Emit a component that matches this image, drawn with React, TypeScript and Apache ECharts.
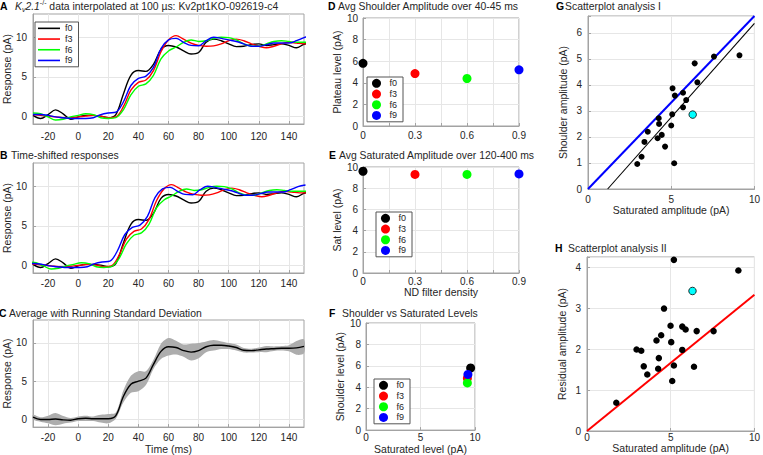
import React, { useEffect, useRef } from 'react';
import * as echarts from 'echarts';

// ---------- data ----------
const TIME = [-30, -25, -20, -15, -10, -5, 0, 5, 10, 15, 20, 25, 30, 35, 40, 45, 50, 55, 60, 65, 70, 75, 80, 85, 90, 95, 100, 105, 110, 115, 120, 125, 130, 135, 140, 145, 150, 155];
const RESP_F0 = [0.1, -0.3, 0.2, 0.8, 0.3, -0.4, -0.1, 0.1, 0.1, 0.0, -0.2, 0.2, 2.8, 5.2, 5.8, 5.7, 6.6, 8.5, 9.0, 8.8, 8.3, 7.9, 8.1, 9.4, 9.8, 9.6, 9.2, 8.85, 8.9, 9.1, 9.2, 9.0, 9.1, 9.2, 9.0, 8.7, 9.15, 9.3];
const RESP_F3 = [0.2, 0.1, 0.0, -0.1, -0.2, -0.2, -0.1, 0.0, 0.1, 0.0, -0.2, -0.1, 1.2, 3.3, 4.3, 4.6, 5.8, 8.2, 9.7, 10.25, 9.8, 9.3, 9.0, 8.9, 8.95, 9.2, 9.6, 9.8, 9.6, 9.2, 8.9, 8.7, 8.9, 9.2, 9.4, 9.3, 9.2, 9.2];
const RESP_F6 = [0.4, 0.3, -0.1, -0.5, -0.4, -0.1, 0.1, 0.3, 0.2, -0.2, -0.3, -0.2, 0.8, 2.7, 3.8, 4.1, 5.2, 7.3, 8.3, 8.8, 9.4, 9.7, 9.5, 9.6, 9.9, 10.05, 10.0, 9.7, 9.2, 8.9, 8.9, 9.2, 9.5, 9.6, 9.5, 9.4, 9.4, 9.4];
const RESP_F9 = [0.2, 0.2, 0.1, -0.1, -0.2, -0.3, -0.3, -0.3, -0.2, 0.2, 0.4, 0.5, 1.8, 3.9, 4.8, 5.1, 6.2, 8.6, 9.7, 9.9, 9.4, 9.0, 8.95, 9.6, 10.05, 9.9, 9.7, 9.5, 9.2, 8.9, 8.9, 9.1, 9.3, 9.3, 9.3, 9.6, 10.0, 10.2];
const TIME_SHIFT = [0, 3, 3, 4]; // ms shift applied in panel B

const AVG_TIME = [-30, -25, -20, -15, -10, -5, 0, 5, 10, 15, 20, 25, 30, 35, 40, 45, 50, 55, 60, 65, 70, 75, 80, 85, 90, 95, 100, 105, 110, 115, 120, 125, 130, 135, 140, 145, 150];
const AVG_MEAN = [0.3, 0.0, 0.0, 0.05, -0.05, -0.1, 0.1, 0.15, 0.1, 0.1, 0.1, 0.5, 3.0, 4.6, 5.0, 5.4, 7.2, 8.9, 9.5, 9.4, 9.0, 8.8, 9.0, 9.5, 9.7, 9.7, 9.6, 9.4, 9.05, 9.0, 9.1, 9.2, 9.25, 9.3, 9.3, 9.35, 9.55];
const AVG_SD = [0.3, 0.3, 0.5, 0.8, 0.5, 0.3, 0.3, 0.35, 0.3, 0.5, 0.6, 0.4, 0.8, 1.1, 1.3, 0.9, 0.6, 1.0, 1.15, 0.9, 0.8, 1.1, 1.0, 0.7, 0.7, 0.5, 0.4, 0.4, 0.3, 0.25, 0.3, 0.4, 0.3, 0.3, 0.4, 0.9, 0.9];

const FILTERS = ['f0', 'f3', 'f6', 'f9'];
const FILTER_COLORS = ['#000000', '#ff0000', '#00ff00', '#0000ff'];
const ND_DENSITY = [0, 0.3, 0.6, 0.9];
const SHOULDER_LEVEL = [5.8, 4.85, 4.4, 5.2];
const SAT_LEVEL = [9.6, 9.3, 9.3, 9.35];

const G_SAT = [2.96, 3.22, 3.39, 3.59, 4.18, 4.43, 4.63, 4.25, 4.27, 5.0, 5.06, 5.08, 5.22, 5.18, 5.71, 5.71, 5.9, 6.41, 6.57, 7.57, 9.1];
const G_SHOULDER = [0.96, 1.24, 1.81, 2.2, 1.95, 2.08, 1.63, 2.72, 2.5, 2.44, 2.87, 3.87, 3.59, 0.99, 3.14, 3.7, 3.42, 4.83, 4.1, 5.09, 5.14];
const G_HIGHLIGHT = [6.29, 2.86];
const G_BLUE_LINE = [[0, 0], [10, 6.65]];
const G_BLACK_LINE = [[1.18, 0], [10, 6.37]];

const H_SAT = [1.75, 2.96, 3.24, 3.39, 3.6, 4.15, 4.29, 4.25, 4.43, 4.6, 4.99, 5.03, 5.09, 5.19, 5.19, 5.69, 5.69, 5.89, 6.39, 6.55, 7.56, 9.04];
const H_RESID = [0.69, 1.99, 1.96, 1.58, 1.38, 2.21, 1.78, 1.52, 2.34, 2.99, 2.57, 2.17, 1.22, 1.6, 4.18, 2.55, 1.98, 2.48, 1.57, 2.44, 2.44, 3.92];
const H_HIGHLIGHT = [6.3, 3.42];
const H_RED_LINE = [[0, 0], [10, 3.33]];

const TIME_TICKS = [-20, 0, 20, 40, 60, 80, 100, 120, 140];
const RESP_TICKS = [0, 5, 10];

// ---------- styles ----------
const FONT = '"Liberation Sans", Arial, Helvetica, sans-serif';
const TXT = '#262626';
const BOX = '#a3a3a3';
const GRIDC = '#e6e6e6';
const TICK_FS = 10;
const NAME_FS = 10.5;
const TITLE_FS = 10.4;

function axis(gridIndex: number, o: any = {}) {
  const { labelMargin = 5, tickExtra = {}, labelExtra = {}, ...rest } = o;
  return {
    type: 'value',
    gridIndex,
    axisLine: { show: true, onZero: false, lineStyle: { color: BOX } },
    axisTick: { show: true, inside: true, length: 3, lineStyle: { color: BOX }, ...tickExtra },
    axisLabel: { color: TXT, fontSize: TICK_FS, fontFamily: FONT, margin: labelMargin, ...labelExtra },
    splitLine: { show: true, lineStyle: { color: GRIDC } },
    nameLocation: 'middle',
    nameTextStyle: { color: TXT, fontSize: NAME_FS, fontFamily: FONT },
    ...rest,
  };
}

const RESP_SERIES = [RESP_F0, RESP_F3, RESP_F6, RESP_F9];

function buildOption() {
  const grids = [
    { left: 30, top: 14, width: 274, height: 110 }, // A
    { left: 30, top: 163, width: 274, height: 110 }, // B
    { left: 30, top: 320, width: 274, height: 109 }, // C
    { left: 363, top: 18, width: 156, height: 108 }, // D
    { left: 363, top: 167, width: 156, height: 106 }, // E
    { left: 366, top: 323, width: 109, height: 108 }, // F
    { left: 588, top: 16, width: 170, height: 173 }, // G
    { left: 587, top: 257, width: 171, height: 174 }, // H
  ].map((g) => ({ ...g, show: true, borderColor: BOX, borderWidth: 1, backgroundColor: '#fff' }));

  const timeX = (gi: number, margin: number, extra: any = {}) =>
    axis(gi, {
      min: -30, max: 150, labelMargin: margin,
      tickExtra: { customValues: TIME_TICKS },
      labelExtra: { customValues: TIME_TICKS },
      ...extra,
    });
  const respY = (gi: number) =>
    axis(gi, {
      min: -1, max: 13, labelMargin: 6,
      tickExtra: { customValues: RESP_TICKS },
      labelExtra: { customValues: RESP_TICKS },
      name: 'Response (pA)', nameGap: 19,
    });

  const ndFormatter = (v: number) => {
    const k = Math.round(v / 0.15);
    if (k % 2 !== 0) return '';
    const val = k * 0.15;
    return val === 0 ? '0' : String(Math.round(val * 10) / 10);
  };
  const intFmt = (v: number) => (Math.abs(v - Math.round(v)) < 1e-6 ? String(Math.round(v)) : '');

  const xAxes = [
    timeX(0, 7),
    timeX(1, 5),
    timeX(2, 5, { name: 'Time (ms)', nameGap: 12 }),
    axis(3, { min: 0, max: 0.9, interval: 0.15, labelMargin: 4, labelExtra: { formatter: ndFormatter } }),
    axis(4, { min: 0, max: 0.9, interval: 0.15, labelMargin: 3, labelExtra: { formatter: ndFormatter }, name: 'ND filter density', nameGap: 13 }),
    axis(5, { min: 0, max: 10, interval: 5, labelMargin: 2, name: 'Saturated level (pA)', nameGap: 11 }),
    axis(6, { min: 0, max: 10, interval: 5, labelMargin: 5, name: 'Saturated amplitude (pA)', nameGap: 15 }),
    axis(7, { min: 0, max: 10, interval: 5, labelMargin: 1, name: 'Saturated amplitude (pA)', nameGap: 11 }),
  ];
  const yAxes = [
    respY(0),
    respY(1),
    respY(2),
    axis(3, { min: 0, max: 10, interval: 2, name: 'Plateau level (pA)', nameGap: 20 }),
    axis(4, { min: 0, max: 10, interval: 2, name: 'Sat level (pA)', nameGap: 20 }),
    axis(5, { min: 0, max: 10, interval: 2, name: 'Shoulder level (pA)', nameGap: 20 }),
    axis(6, { min: 0, max: 6.65, interval: 1, labelMargin: 6, labelExtra: { formatter: intFmt }, name: 'Shoulder amplitude (pA)', nameGap: 20 }),
    axis(7, { min: 0, max: 4.25, interval: 1, labelMargin: 6, labelExtra: { formatter: intFmt }, name: 'Residual amplitude (pA)', nameGap: 20 }),
  ];

  const series: any[] = [];
  // A
  FILTERS.forEach((f, k) => {
    series.push({
      type: 'line', name: f, xAxisIndex: 0, yAxisIndex: 0, smooth: 0.35, showSymbol: false, clip: true,
      lineStyle: { color: FILTER_COLORS[k], width: 1.4 }, itemStyle: { color: FILTER_COLORS[k] },
      data: TIME.map((t, i) => [t, RESP_SERIES[k][i]]),
    });
  });
  // B
  FILTERS.forEach((f, k) => {
    series.push({
      type: 'line', name: 'B_' + f, xAxisIndex: 1, yAxisIndex: 1, smooth: 0.35, showSymbol: false, clip: true,
      lineStyle: { color: FILTER_COLORS[k], width: 1.4 }, itemStyle: { color: FILTER_COLORS[k] },
      data: TIME.map((t, i) => [t - TIME_SHIFT[k], RESP_SERIES[k][i]]),
    });
  });
  // C: running SD band + mean
  series.push({
    type: 'custom', name: 'sdband', xAxisIndex: 2, yAxisIndex: 2, silent: true, z: 2,
    data: [[AVG_TIME[0], AVG_MEAN[0]]],
    renderItem: (params: any, api: any) => {
      const up = AVG_TIME.map((t, i) => api.coord([t, AVG_MEAN[i] + AVG_SD[i]]));
      const lo = AVG_TIME.map((t, i) => api.coord([t, AVG_MEAN[i] - AVG_SD[i]])).reverse();
      return {
        type: 'polygon',
        shape: { points: up.concat(lo), smooth: 0.3 },
        style: { fill: '#adadad', stroke: 'none' },
      };
    },
  });
  series.push({
    type: 'line', name: 'mean', xAxisIndex: 2, yAxisIndex: 2, smooth: 0.35, showSymbol: false,
    lineStyle: { color: '#000', width: 1.4 }, data: AVG_TIME.map((t, i) => [t, AVG_MEAN[i]]), z: 5,
  });
  // D, E, F
  FILTERS.forEach((f, k) => {
    const common = { type: 'scatter', symbolSize: 9, clip: false, itemStyle: { color: FILTER_COLORS[k], opacity: 1 } };
    series.push({ ...common, name: 'D_' + f, xAxisIndex: 3, yAxisIndex: 3, data: [[ND_DENSITY[k], SHOULDER_LEVEL[k]]] });
    series.push({ ...common, name: 'E_' + f, xAxisIndex: 4, yAxisIndex: 4, data: [[ND_DENSITY[k], SAT_LEVEL[k]]] });
    series.push({ ...common, name: 'F_' + f, xAxisIndex: 5, yAxisIndex: 5, data: [[SAT_LEVEL[k], SHOULDER_LEVEL[k]]] });
  });
  // G
  series.push({ type: 'line', name: 'g_blue', xAxisIndex: 6, yAxisIndex: 6, showSymbol: false, lineStyle: { color: '#0000ff', width: 2 }, data: G_BLUE_LINE });
  series.push({ type: 'line', name: 'g_black', xAxisIndex: 6, yAxisIndex: 6, showSymbol: false, lineStyle: { color: '#000', width: 1.1 }, data: G_BLACK_LINE });
  series.push({ type: 'scatter', name: 'g_pts', xAxisIndex: 6, yAxisIndex: 6, symbolSize: 6, itemStyle: { color: '#000', opacity: 1 }, data: G_SAT.map((x, i) => [x, G_SHOULDER[i]]), z: 3 });
  series.push({ type: 'scatter', name: 'g_hi', xAxisIndex: 6, yAxisIndex: 6, symbolSize: 7.5, itemStyle: { color: '#00ffff', borderColor: '#000', borderWidth: 0.8, opacity: 1 }, data: [G_HIGHLIGHT], z: 4 });
  // H
  series.push({ type: 'line', name: 'h_red', xAxisIndex: 7, yAxisIndex: 7, showSymbol: false, lineStyle: { color: '#ff0000', width: 2 }, data: H_RED_LINE });
  series.push({ type: 'scatter', name: 'h_pts', xAxisIndex: 7, yAxisIndex: 7, symbolSize: 6.5, clip: false, itemStyle: { color: '#000', opacity: 1 }, data: H_SAT.map((x, i) => [x, H_RESID[i]]), z: 3 });
  series.push({ type: 'scatter', name: 'h_hi', xAxisIndex: 7, yAxisIndex: 7, symbolSize: 7.5, itemStyle: { color: '#00ffff', borderColor: '#000', borderWidth: 0.8, opacity: 1 }, data: [H_HIGHLIGHT], z: 4 });

  const legendBase = {
    orient: 'vertical', selectedMode: false, backgroundColor: '#fff', borderColor: '#555', borderWidth: 1,
    itemGap: 0, textStyle: { color: TXT, fontSize: 9, fontFamily: FONT, lineHeight: 10.7 },
    formatter: (n: string) => (n.indexOf('_') >= 0 ? n.split('_')[1] : n),
  };
  const legends = [
    { ...legendBase, data: FILTERS, left: 35, top: 22, icon: 'rect', itemWidth: 22, itemHeight: 1.6, padding: [1, 6, 1, 3] },
    { ...legendBase, data: FILTERS.map((f) => 'D_' + f), left: 367, top: 77, icon: 'circle', itemWidth: 16, itemHeight: 9, padding: [1, 6, 1, 5] },
    { ...legendBase, data: FILTERS.map((f) => 'E_' + f), left: 376, top: 212, icon: 'circle', itemWidth: 16, itemHeight: 9, padding: [1, 6, 1, 5] },
    { ...legendBase, data: FILTERS.map((f) => 'F_' + f), left: 374, top: 379, icon: 'circle', itemWidth: 16, itemHeight: 9, padding: [1, 6, 1, 5] },
  ];

  const letter = (x: number, y: number, t: string) => ({
    type: 'text', x, y, silent: true,
    style: { text: t, fill: '#000', fontSize: 10.4, fontWeight: 'bold', fontFamily: FONT, verticalAlign: 'middle' },
  });
  const title = (x: number, y: number, t: string, rich?: any) => ({
    type: 'text', x, y, silent: true,
    style: { text: t, fill: TXT, fontSize: TITLE_FS, fontFamily: FONT, verticalAlign: 'middle', rich },
  });
  const richA = {
    i: { fontStyle: 'italic', fontSize: TITLE_FS, fontFamily: FONT, fill: TXT, lineHeight: 14 },
    sub: { fontStyle: 'italic', fontSize: 7, fontFamily: FONT, fill: TXT, lineHeight: 14, verticalAlign: 'bottom' },
    sup: { fontSize: 7, fontFamily: FONT, fill: TXT, lineHeight: 14, verticalAlign: 'top' },
    n: { fontSize: TITLE_FS, fontFamily: FONT, fill: TXT, lineHeight: 14 },
  };

  const graphic = [
    letter(0, 6, 'A'),
    title(15, 6, '{i|K}{sub|v}{i|2.1}{sup|-/-}{n| data interpolated at 100 µs: Kv2pt1KO-092619-c4}', richA),
    letter(0, 155, 'B'),
    title(11, 155, 'Time-shifted responses'),
    letter(-1, 313, 'C'),
    title(9, 313, 'Average with Running Standard Deviation'),
    letter(328, 6, 'D'),
    title(338, 6, 'Avg Shoulder Amplitude over 40-45 ms'),
    letter(329, 155, 'E'),
    title(339, 155, 'Avg Saturated Amplitude over 120-400 ms'),
    letter(329, 313, 'F'),
    title(342, 313, 'Shoulder vs Saturated Levels'),
    letter(556, 6, 'G'),
    title(565, 6, 'Scatterplot analysis I'),
    letter(555, 248, 'H'),
    title(568, 248, 'Scatterplot analysis II'),
  ];

  return {
    animation: false,
    backgroundColor: '#ffffff',
    grid: grids,
    xAxis: xAxes,
    yAxis: yAxes,
    series,
    legend: legends,
    graphic,
  };
}

export default function App() {
  const ref = useRef<HTMLDivElement>(null);
  useEffect(() => {
    if (!ref.current) return;
    const chart = echarts.init(ref.current, undefined, { renderer: 'svg' });
    chart.setOption(buildOption() as any);
    return () => chart.dispose();
  }, []);
  return <div ref={ref} style={{ position: 'fixed', left: 0, top: 0, width: 763, height: 455, background: '#fff' }} />;
}
